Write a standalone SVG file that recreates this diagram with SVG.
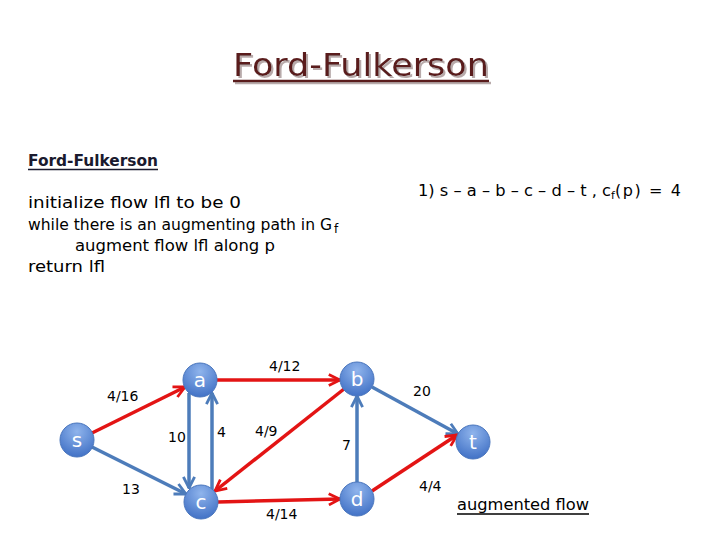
<svg xmlns="http://www.w3.org/2000/svg" width="720" height="540" viewBox="0 0 720 540">
<defs>
<radialGradient id="ng" cx="50%" cy="25%" r="75%">
<stop offset="0" stop-color="#8fb4ec"/>
<stop offset="1" stop-color="#4272c6"/>
</radialGradient>
<filter id="sh" x="-5%" y="-20%" width="110%" height="140%"><feDropShadow dx="2" dy="2" stdDeviation="0.6" flood-color="#b8aaaa"/></filter>
<marker id="ar" viewBox="0 0 10 10" refX="9" refY="5" markerWidth="4" markerHeight="4" orient="auto"><path d="M1,1 L9,5 L1,9" fill="none" stroke="#e31414" stroke-width="2"/></marker>
<marker id="ab" viewBox="0 0 10 10" refX="9" refY="5" markerWidth="4" markerHeight="4" orient="auto"><path d="M1,1 L9,5 L1,9" fill="none" stroke="#4d7cba" stroke-width="2"/></marker>
<style>
.node circle{fill:url(#ng);stroke:#4a76bd;stroke-width:1}
.node text{font-family:"DejaVu Sans",sans-serif;font-size:20px;fill:#fff;text-anchor:middle}
.r{stroke:#e31414;stroke-width:3.5;fill:none;marker-end:url(#ar)}
.b{stroke:#4d7cba;stroke-width:3.5;fill:none;marker-end:url(#ab)}
.lbl{font-family:"DejaVu Sans",sans-serif;font-size:14px;fill:#000}
.code{font-family:"DejaVu Sans",sans-serif;font-size:16px;fill:#000}
</style>
</defs>
<rect width="720" height="540" fill="#fff"/>
<g id="title" filter="url(#sh)">
<text x="233" y="76" font-family="DejaVu Sans,sans-serif" font-size="32" fill="#5a1c1c" textLength="256" lengthAdjust="spacingAndGlyphs">Ford-Fulkerson</text>
<line x1="233" y1="81" x2="489" y2="81" stroke="#5a1c1c" stroke-width="2.5"/>
</g>
<g id="text">
<text x="28" y="166" font-family="DejaVu Sans,sans-serif" font-size="16" font-weight="bold" fill="#1a1a2e" textLength="130" lengthAdjust="spacingAndGlyphs">Ford-Fulkerson</text>
<line x1="28" y1="169.5" x2="158" y2="169.5" stroke="#1a1a2e" stroke-width="1.5"/>
<text class="code" x="28" y="208" textLength="213" lengthAdjust="spacingAndGlyphs">initialize flow lfl to be 0</text>
<text class="code" x="28" y="230"><tspan textLength="304" lengthAdjust="spacingAndGlyphs">while there is an augmenting path in G</tspan><tspan font-size="12" dx="2" dy="3">f</tspan></text>
<text class="code" x="75" y="251" textLength="200" lengthAdjust="spacingAndGlyphs">augment flow lfl along p</text>
<text class="code" x="28" y="272" textLength="77" lengthAdjust="spacingAndGlyphs">return lfl</text>
<text class="code" x="418" y="196"><tspan textLength="193" lengthAdjust="spacingAndGlyphs">1) s – a – b – c – d – t   ,  c</tspan><tspan font-size="11" dy="3">f</tspan><tspan dy="-3" textLength="66" lengthAdjust="spacing">(p) = 4</tspan></text>
<text class="code" x="457" y="510" textLength="132" lengthAdjust="spacingAndGlyphs">augmented flow</text>
<line x1="457" y1="514" x2="589" y2="514" stroke="#000" stroke-width="1.5"/>
</g>
<g id="edges">
<line class="r" x1="92" y1="433" x2="185" y2="387"/>
<line class="b" x1="92" y1="447" x2="186" y2="494"/>
<line class="b" x1="189" y1="393" x2="189" y2="488"/>
<line class="b" x1="212" y1="490" x2="212" y2="393"/>
<line class="r" x1="217" y1="380" x2="340" y2="380"/>
<line class="r" x1="344" y1="389" x2="215" y2="491"/>
<line class="r" x1="218" y1="502" x2="340" y2="499"/>
<line class="b" x1="357" y1="482" x2="357" y2="396"/>
<line class="b" x1="372" y1="387" x2="458" y2="434"/>
<line class="r" x1="372" y1="491" x2="457" y2="435"/>
<text class="lbl" x="107" y="401">4/16</text>
<text class="lbl" x="122" y="494">13</text>
<text class="lbl" x="168" y="442">10</text>
<text class="lbl" x="217" y="437">4</text>
<text class="lbl" x="269" y="371">4/12</text>
<text class="lbl" x="255" y="436">4/9</text>
<text class="lbl" x="266" y="519">4/14</text>
<text class="lbl" x="342" y="450">7</text>
<text class="lbl" x="413" y="396">20</text>
<text class="lbl" x="419" y="491">4/4</text>
</g>
<g id="node-s" class="node"><circle cx="77" cy="440" r="17"/><text x="77" y="447">s</text></g>
<g id="node-a" class="node"><circle cx="200" cy="380" r="17"/><text x="200" y="387">a</text></g>
<g id="node-b" class="node"><circle cx="357" cy="379" r="17"/><text x="357" y="386">b</text></g>
<g id="node-c" class="node"><circle cx="201" cy="502" r="17"/><text x="201" y="509">c</text></g>
<g id="node-d" class="node"><circle cx="357" cy="499" r="17"/><text x="357" y="506">d</text></g>
<g id="node-t" class="node"><circle cx="473" cy="442" r="17"/><text x="473" y="449">t</text></g>
</svg>
